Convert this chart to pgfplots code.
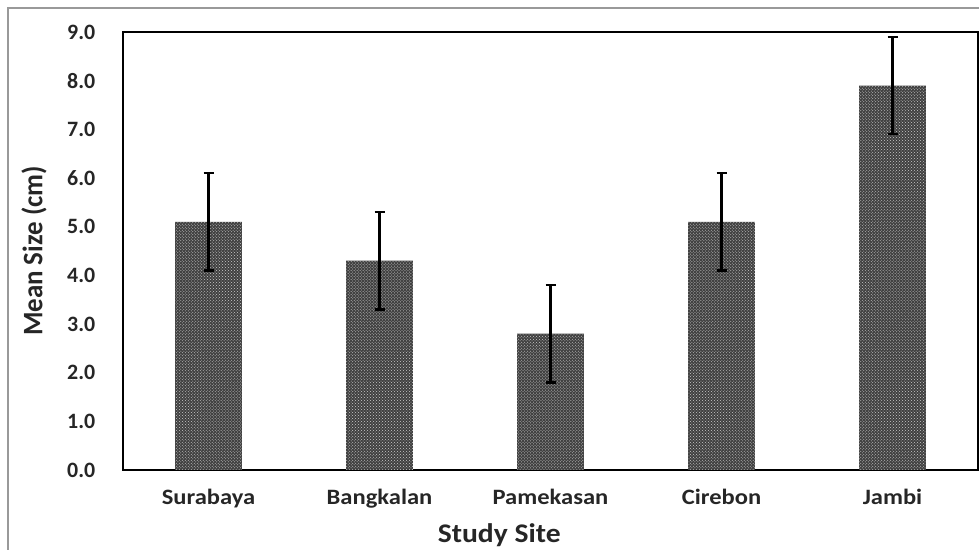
\documentclass[border=0pt]{standalone}
\usepackage{pgfplots}
\pgfplotsset{compat=1.18}
\usetikzlibrary{patterns}
\usepackage{fontspec}
\setmainfont{Carlito}
\begin{document}
\begin{tikzpicture}[x=1bp,y=1bp]
\useasboundingbox (0,0) rectangle (979,550);
\draw[black!40, line width=1.5bp] (8,0) -- (8,542) -- (979,542);
\begin{axis}[
  at={(123bp,80bp)}, anchor=south west,
  scale only axis, width=855bp, height=438bp,
  xmin=-0.5, xmax=4.5, ymin=0, ymax=9,
  xtick={0,1,2,3,4}, xticklabels={Surabaya,Bangkalan,Pamekasan,Cirebon,Jambi},
  minor xtick={-0.5,0.5,1.5,2.5,3.5,4.5},
  xtick style={draw=none},
  minor tick length=7bp,
  minor x tick style={black, line width=1bp},
  xtick pos=bottom,
  minor tick style={/pgfplots/tick align=outside},
  ytick={0,1,...,9},
  ytick style={draw=none},
  yticklabel={\pgfmathprintnumber[fixed,fixed zerofill,precision=1]{\tick}},
  /pgf/number format/assume math mode=true,
  tick label style={font=\fontsize{22}{24}\selectfont\bfseries, black!85},
  yticklabel style={xshift=-20bp},
  xticklabel style={yshift=-11bp, xscale=1.12},
  axis line style={black, line width=2bp},
  xlabel={Study Site}, ylabel={Mean Size (cm)},
  label style={font=\fontsize{27}{29}\selectfont\bfseries, black!85},
  xlabel style={at={(axis description cs:0.44,-0.148)}, anchor=center, xscale=1.1},
  ylabel style={at={(axis description cs:-0.104,0.5)}, anchor=center, rotate=0, yscale=1.05},
  ybar, bar width=0.39,
  grid=none,
]
\addplot[draw=none, fill=black!75,
  postaction={pattern=crosshatch dots, pattern color=white!80!black},
  error bars/.cd, y dir=both, y explicit,
  error bar style={black, line width=2.5bp},
  error mark options={black, line width=2.5bp, mark size=5bp, rotate=90}]
  coordinates {
  (0,5.1) +- (0,1.0)
  (1,4.3) +- (0,1.0)
  (2,2.8) +- (0,1.0)
  (3,5.1) +- (0,1.0)
  (4,7.9) +- (0,1.0)
  };
\end{axis}
\end{tikzpicture}
\end{document}
